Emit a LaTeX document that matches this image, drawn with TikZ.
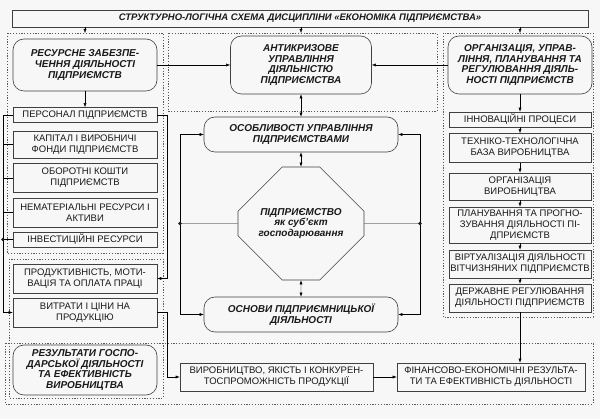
\documentclass[tikz,border=0pt]{standalone}
\usepackage{fontspec}
\setmainfont{Liberation Sans}
\usetikzlibrary{arrows.meta,shapes.misc}
\tikzset{
  box/.style={draw=black!75, line width=0.6pt, align=center, inner sep=1pt,
    font=\fontsize{9.5}{10.8}\selectfont},
  head/.style={font=\fontsize{10}{10.7}\selectfont\bfseries\itshape},
  rbox/.style={box, head, rounded corners=11},
  zone/.style={draw=black!65, line width=0.6pt, dash pattern=on 1.2pt off 1.6pt},
  dot/.style={fill=black!90}
}
\begin{document}
\begin{tikzpicture}[x=1pt, y=-1pt, >={Latex[length=4pt,width=3pt]}, text=black!90]
\fill[black!3] (0,0) rectangle (600,419);
\draw[zone] (7,33) rectangle (163,253);
\draw[zone] (9,259) rectangle (163,398);
\draw[zone] (5,343) rectangle (593,404);
\draw[zone] (168,33) rectangle (437,111);
\draw[zone] (443,33) rectangle (593,317);

\node[box, font=\fontsize{9.5}{10.7}\selectfont\bfseries\itshape, minimum width=576, minimum height=17] (title) at (300,18.5) {СТРУКТУРНО-ЛОГІЧНА СХЕМА ДИСЦИПЛІНИ «ЕКОНОМІКА ПІДПРИЄМСТВА»};

\node[rbox, minimum width=144, minimum height=52] (res) at (85,65) {РЕСУРСНЕ ЗАБЕЗПЕ-\\ЧЕННЯ ДІЯЛЬНОСТІ\\ПІДПРИЄМСТВ};
\node[box, minimum width=144, minimum height=15] (pers) at (85,115) {ПЕРСОНАЛ ПІДПРИЄМСТВ};
\node[box, minimum width=144, minimum height=27] (kap) at (85,144.5) {КАПІТАЛ І ВИРОБНИЧІ\\ФОНДИ ПІДПРИЄМСТВ};
\node[box, minimum width=144, minimum height=29] (obor) at (85,178) {ОБОРОТНІ КОШТИ\\ПІДПРИЄМСТВ};
\node[box, minimum width=144, minimum height=29] (nemat) at (85,212.5) {НЕМАТЕРІАЛЬНІ РЕСУРСИ І\\АКТИВИ};
\node[box, minimum width=144, minimum height=15] (inv) at (85,239.5) {ІНВЕСТИЦІЙНІ РЕСУРСИ};
\node[box, minimum width=144, minimum height=29] (prod) at (85,278.5) {ПРОДУКТИВНІСТЬ, МОТИ-\\ВАЦІЯ ТА ОПЛАТА ПРАЦІ};
\node[box, minimum width=144, minimum height=29] (vytr) at (85,312.5) {ВИТРАТИ І ЦІНИ НА\\ПРОДУКЦІЮ};
\node[rbox, minimum width=144, minimum height=50] (rez) at (85,370) {РЕЗУЛЬТАТИ ГОСПО-\\ДАРСЬКОЇ ДІЯЛЬНОСТІ\\ТА ЕФЕКТИВНІСТЬ\\ВИРОБНИЦТВА};

\node[rbox, minimum width=141, minimum height=58] (anti) at (301,65) {АНТИКРИЗОВЕ\\УПРАВЛІННЯ\\ДІЯЛЬНІСТЮ\\ПІДПРИЄМСТВА};
\node[rbox, minimum width=194, minimum height=35] (osob) at (301,134.5) {ОСОБЛИВОСТІ УПРАВЛІННЯ\\ПІДПРИЄМСТВАМИ};
\node[box, head, chamfered rectangle, chamfered rectangle xsep=30pt, chamfered rectangle ysep=28pt, minimum width=126, minimum height=113] (pidpr) at (301,223.5) {ПІДПРИЄМСТВО\\як суб’єкт\\господарювання};
\node[rbox, minimum width=194, minimum height=35] (osn) at (301,314.5) {ОСНОВИ ПІДПРИЄМНИЦЬКОЇ\\ДІЯЛЬНОСТІ};
\node[box, minimum width=193, minimum height=28] (vyrob) at (276.5,377) {ВИРОБНИЦТВО, ЯКІСТЬ І КОНКУРЕН-\\ТОСПРОМОЖНІСТЬ ПРОДУКЦІЇ};
\node[box, minimum width=188, minimum height=28] (fin) at (491,377) {ФІНАНСОВО-ЕКОНОМІЧНІ РЕЗУЛЬТА-\\ТИ ТА ЕФЕКТИВНІСТЬ ДІЯЛЬНОСТІ};

\node[rbox, minimum width=144, minimum height=58] (org) at (520,65) {ОРГАНІЗАЦІЯ, УПРАВ-\\ЛІННЯ, ПЛАНУВАННЯ ТА\\РЕГУЛЮВАННЯ ДІЯЛЬ-\\НОСТІ ПІДПРИЄМСТВ};
\node[box, minimum width=142, minimum height=15] (inn) at (520,119.5) {ІННОВАЦІЙНІ ПРОЦЕСИ};
\node[box, minimum width=142, minimum height=29] (tekh) at (520,148) {ТЕХНІКО-ТЕХНОЛОГІЧНА\\БАЗА ВИРОБНИЦТВА};
\node[box, minimum width=142, minimum height=27] (orgv) at (520,186.5) {ОРГАНІЗАЦІЯ\\ВИРОБНИЦТВА};
\node[box, minimum width=142, minimum height=36] (plan) at (520,225) {ПЛАНУВАННЯ ТА ПРОГНО-\\ЗУВАННЯ ДІЯЛЬНОСТІ ПІ-\\ДПРИЄМСТВ};
\node[box, minimum width=142, minimum height=28] (virt) at (520,264) {ВІРТУАЛІЗАЦІЯ ДІЯЛЬНОСТІ\\ВІТЧИЗНЯНИХ ПІДПРИЄМСТВ};
\node[box, minimum width=142, minimum height=28] (derzh) at (520,298) {ДЕРЖАВНЕ РЕГУЛЮВАННЯ\\ДІЯЛЬНОСТІ ПІДПРИЄМСТВ};

\coordinate (zA) at (85,33);
\coordinate (zM) at (301,33);
\coordinate (zR) at (520,33);
\coordinate (lx) at (3,0);
\coordinate (rx) at (167,0);
\coordinate (dl) at (180,223.5);
\coordinate (dr) at (420,223.5);

\draw[->] (title.south -| zA) -- (zA);
\draw[->] (title.south -| zM) -- (zM);
\draw[->] (title.south -| zR) -- (zR);

\draw[->] (res) -- (pers);
\draw[->] (res) -- (anti);
\draw[->] (org) -- (anti);
\draw[<->] (anti) -- (osob);
\draw[<->] (osob) -- (pidpr);
\draw[<->] (pidpr) -- (osn);

\draw (pidpr) -- (dl);
\draw[->] (dl) |- (osob);
\draw[->] (dl) |- (osn);
\fill[dot] (dl) circle (1.8);
\draw (pidpr) -- (dr);
\draw[->] (dr) |- (osob);
\draw[->] (dr) |- (osn);
\fill[dot] (dr) circle (1.8);

\draw[->] (pers.west) -- (pers.west -| lx) |- (vytr.west);
\foreach \n in {kap,obor,nemat,inv}
  \draw (\n.west) -- (\n.west -| lx);
\fill[dot] (inv.west -| lx) circle (1.8);
\draw[->] (pers.east) -- (pers.east -| rx) |- (prod.east);
\draw[->] (vytr.east) -- (vytr.east -| rx) |- (vyrob.west);

\foreach \a/\b in {org/inn,inn/tekh,tekh/orgv,orgv/plan,plan/virt,virt/derzh}
  \draw[->] (\a) -- (\b);
\draw[->] (derzh) -- (derzh |- fin.north);
\draw[->] (vyrob) -- (fin);
\end{tikzpicture}
\end{document}
